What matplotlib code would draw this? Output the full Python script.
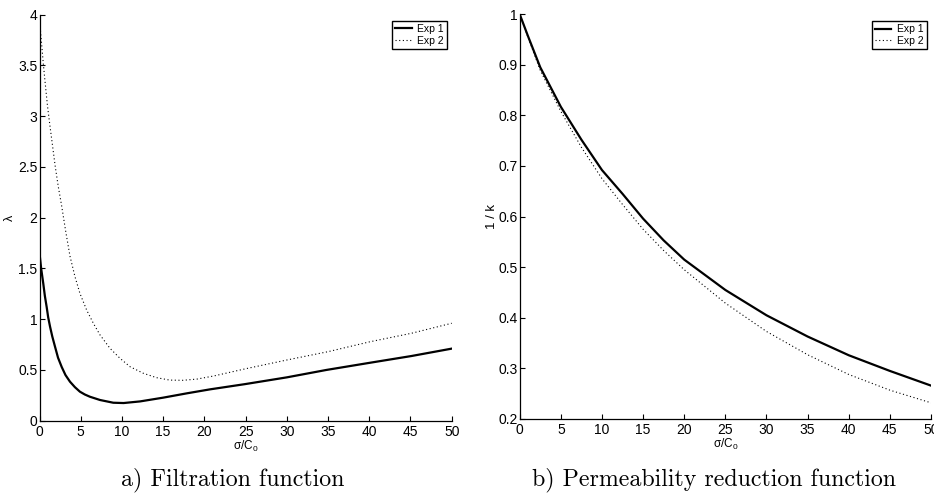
import matplotlib
matplotlib.use("Agg")
import matplotlib.pyplot as plt
import warnings
warnings.filterwarnings("ignore")

# ---------------- data ----------------
# a) Filtration function  (lambda vs sigma/C0)
fx_exp1 = [0, 0.2, 0.46, 0.65, 0.87, 1.05, 1.27, 1.55, 1.88, 2.25, 2.69, 3.15, 3.7,
           4.3, 4.9, 5.5, 6.12, 7.34, 8.95, 10.2, 12.2, 15.0, 17.9, 20.7, 24.9,
           30.0, 34.8, 40.1, 45.1, 50]
fy_exp1 = [1.65, 1.50, 1.35, 1.23, 1.12, 1.02, 0.93, 0.83, 0.73, 0.62, 0.53, 0.45, 0.384,
           0.33, 0.286, 0.258, 0.236, 0.204, 0.177, 0.174, 0.19, 0.227, 0.27, 0.309, 0.36,
           0.427, 0.50, 0.571, 0.637, 0.71]

fx_exp2 = [0, 0.27, 0.47, 0.71, 0.97, 1.26, 1.58, 1.9, 2.27, 2.68, 3.17, 3.7, 4.3,
           4.9, 5.72, 6.53, 7.34, 8.55, 9.76, 10.98, 12.6, 14.2, 15.8, 17.4, 19.1,
           21.1, 24.9, 30, 35, 40.1, 45.1, 50]
fy_exp2 = [3.95, 3.70, 3.51, 3.31, 3.10, 2.91, 2.71, 2.51, 2.31, 2.12, 1.87, 1.62, 1.42,
           1.255, 1.09, 0.96, 0.845, 0.713, 0.615, 0.532, 0.467, 0.424, 0.40, 0.398, 0.41,
           0.44, 0.51, 0.598, 0.68, 0.778, 0.861, 0.96]

# b) Permeability reduction function  (1/k vs sigma/C0)
px_vals = [0, 1, 2.5, 5, 7.5, 10, 12.5, 15, 17.5, 20, 25, 30, 35, 40, 45, 50]
py_exp1 = [1.0, 0.957, 0.895, 0.817, 0.752, 0.692, 0.645, 0.596, 0.553, 0.515,
           0.455, 0.405, 0.363, 0.326, 0.295, 0.266]
py_exp2 = [1.0, 0.955, 0.889, 0.808, 0.737, 0.675, 0.624, 0.575, 0.533, 0.495,
           0.429, 0.373, 0.327, 0.288, 0.257, 0.232]

series_labels = ["Exp 1", "Exp 2"]
x_ticks = list(range(0, 51, 5))
fy_ticks = [0, 0.5, 1, 1.5, 2, 2.5, 3, 3.5, 4]
fy_ticklabels = ["0", "0.5", "1", "1.5", "2", "2.5", "3", "3.5", "4"]
py_ticks = [0.2, 0.3, 0.4, 0.5, 0.6, 0.7, 0.8, 0.9, 1.0]
py_ticklabels = ["0.2", "0.3", "0.4", "0.5", "0.6", "0.7", "0.8", "0.9", "1"]
captions = ["a) Filtration function", "b) Permeability reduction function"]

# ---------------- style ----------------
FAM = ["Liberation Sans", "DejaVu Sans"]
plt.rcParams["font.family"] = FAM
plt.rcParams["mathtext.fontset"] = "custom"
plt.rcParams["mathtext.rm"] = "Liberation Sans"
plt.rcParams["mathtext.it"] = "Liberation Sans"

W, H = 934, 497
fig = plt.figure(figsize=(W / 100, H / 100), dpi=100)

def px_rect(x0, x1, ytop, ybot):
    return [x0 / W, 1 - ybot / H, (x1 - x0) / W, (ybot - ytop) / H]

ax1 = fig.add_axes(px_rect(39.5, 451.7, 14.7, 420.7))
ax2 = fig.add_axes(px_rect(519.7, 931.0, 14.2, 419.0))

dot_kw = dict(color="black", lw=0.8, dashes=(1, 2.3))
solid_kw = dict(color="black", lw=1.6)

ax1.plot(fx_exp1, fy_exp1, label=series_labels[0], **solid_kw)
ax1.plot(fx_exp2, fy_exp2, label=series_labels[1], **dot_kw)
ax2.plot(px_vals, py_exp1, label=series_labels[0], **solid_kw)
ax2.plot(px_vals, py_exp2, label=series_labels[1], **dot_kw)

ax1.set_xlim(0, 50)
ax1.set_ylim(0, 4)
ax1.set_yticks(fy_ticks)
ax1.set_yticklabels(fy_ticklabels)
ax2.set_xlim(0, 50)
ax2.set_ylim(0.2, 1.0)
ax2.set_yticks(py_ticks)
ax2.set_yticklabels(py_ticklabels)

for ax in (ax1, ax2):
    ax.set_xticks(x_ticks)
    ax.set_xticklabels([str(t) for t in x_ticks])
    for s in ("top", "right"):
        ax.spines[s].set_visible(False)
    for s in ("left", "bottom"):
        ax.spines[s].set_linewidth(0.9)
        ax.spines[s].set_color("black")
    ax.tick_params(direction="in", length=3.4, width=0.8, labelsize=10,
                   colors="black")
    ax.tick_params(axis="y", pad=1.5)
    ax.tick_params(axis="x", pad=3)
    ax.set_xlabel(r"σ/C$_{0}$", fontsize=8.5, labelpad=0)
    ax.patch.set_alpha(0)

ax1.set_ylabel("λ", fontsize=9)
ax1.yaxis.set_label_coords(-0.057, 0.5)
ax2.set_ylabel("1 / k", fontsize=9.5)
ax2.yaxis.set_label_coords(-0.053, 0.5)

leg_kw = dict(loc="upper right", borderaxespad=0, fancybox=False,
              framealpha=1, edgecolor="black", handlelength=1.55,
              handletextpad=0.55, borderpad=0.3, labelspacing=0.15,
              prop={"family": FAM, "size": 7.5})
l1 = ax1.legend(bbox_to_anchor=(0.9886, 0.9845), **leg_kw)
l2 = ax2.legend(bbox_to_anchor=(0.990, 0.983), **leg_kw)
for l in (l1, l2):
    l.get_frame().set_linewidth(1.0)

fig.text(233 / W, 1 - 485 / H, captions[0], fontfamily="cmr10", fontsize=17.2,
         ha="center", va="baseline")
fig.text(714 / W, 1 - 485 / H, captions[1], fontfamily="cmr10", fontsize=17.2,
         ha="center", va="baseline")

fig.savefig("out.png", dpi=100)
